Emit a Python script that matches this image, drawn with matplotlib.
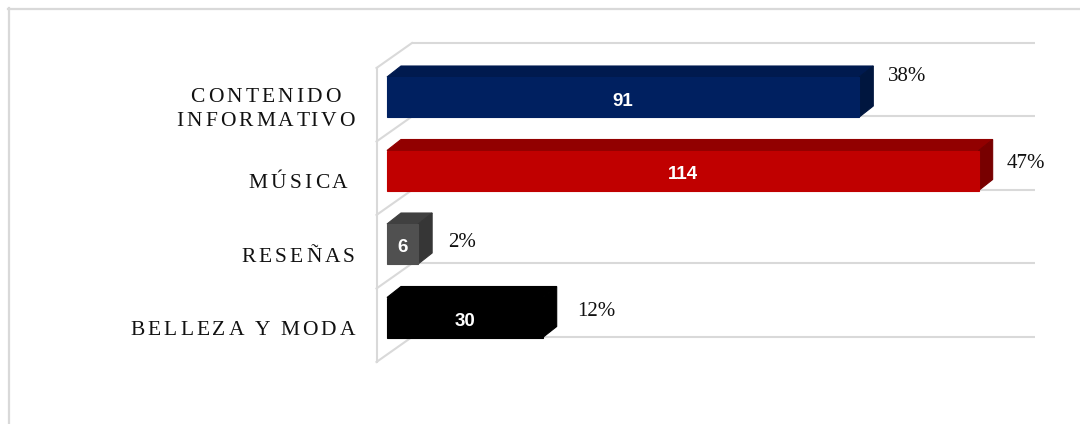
import matplotlib
matplotlib.use("Agg")
import matplotlib.pyplot as plt
from matplotlib.patches import Polygon
from matplotlib.lines import Line2D
from matplotlib.font_manager import FontProperties
import matplotlib.transforms as mtransforms

# ---------------- data ----------------
categories = ["CONTENIDO\nINFORMATIVO", "MÚSICA ", "RESEÑAS", "BELLEZA Y MODA"]
values = [91, 114, 6, 30]
percent_labels = ["38%", "47%", "2%", "12%"]
value_axis_max = 120

# ---------------- style ----------------
front_colors = ["#002060", "#C00000", "#505050", "#000000"]
top_colors = ["#001a4f", "#920000", "#404040", "#000000"]
side_colors = ["#00163f", "#780000", "#363636", "#000000"]
grid_color = "#d9d9d9"

W, H, DPI = 1080, 424, 100
fig = plt.figure(figsize=(W / DPI, H / DPI), dpi=DPI)
ax = fig.add_axes([0, 0, 1, 1])
ax.set_axis_off()

PX = 5.19    # pixels per value unit
PY = 73.5    # pixels per category
X0, Y0 = 387, 97
ax.set_xlim(-X0 / PX, (W - X0) / PX)
ax.set_ylim((H - Y0) / PY, -Y0 / PY)

DX, DY = 14 / PX, -11 / PY          # bar depth
BH = 20 / PY                         # half bar height
WALL_FRONT = -10.5 / PX
WALL_BACK = 25 / PX
WALL_DY = -25 / PY

# outer border
for xs, ys in [([8, 1080], [H - 8.5, H - 8.5]), ([8.5, 8.5], [H - 8, 0])]:
    fig.add_artist(Line2D(xs, ys, transform=mtransforms.IdentityTransform(),
                          color=grid_color, lw=1.6))

# floor / wall lines
n = len(categories)
backs = [-0.5 + k - 0.235 for k in range(n + 1)]
for yb in backs:
    ax.plot([WALL_BACK, value_axis_max + WALL_BACK], [yb, yb], color=grid_color, lw=1.5, zorder=1,
            solid_capstyle="butt")
    ax.plot([WALL_FRONT, WALL_BACK], [yb - WALL_DY, yb], color=grid_color, lw=1.5, zorder=1)
ax.plot([WALL_FRONT, WALL_FRONT], [backs[0] - WALL_DY, backs[-1] - WALL_DY], color=grid_color,
        lw=1.5, zorder=1)

# bars
for i, v in enumerate(values):
    top, bot = i - BH, i + BH
    ax.add_patch(Polygon([(0, top), (v, top), (v + DX, top + DY), (DX, top + DY)],
                         closed=True, facecolor=top_colors[i], edgecolor=top_colors[i],
                         lw=0.8, joinstyle="miter", zorder=3))
    ax.add_patch(Polygon([(v, top), (v + DX, top + DY), (v + DX, bot + DY), (v, bot)],
                         closed=True, facecolor=side_colors[i], edgecolor=side_colors[i],
                         lw=0.8, joinstyle="miter", zorder=3))
    ax.add_patch(Polygon([(0, top), (v, top), (v, bot), (0, bot)],
                         closed=True, facecolor=front_colors[i], edgecolor=front_colors[i],
                         lw=0.8, joinstyle="miter", zorder=4))
    # value label
    ax.text(v / 2, i + 8.5 / PY, str(v), color="white", fontsize=13.5, fontweight="bold",
            family="Liberation Sans", ha="center", va="baseline", zorder=5)

# percent labels
pct_gap = [15, 14, 16, 20]
pct_base = [-16, -2.5, 3, -1.5]
for i, (v, p) in enumerate(zip(values, percent_labels)):
    ax.text(v + DX + pct_gap[i] / PX, i + pct_base[i] / PY, p, fontsize=15,
            family="Liberation Serif", color="#111111", ha="left", va="baseline", zorder=5)

# category labels with letter spacing
fig.canvas.draw()
r = fig.canvas.get_renderer()
prop = FontProperties(family="Liberation Serif", size=15.5)
SP = 3.1
bar_w = r.get_text_width_height_descent("|", prop, ismath=False)[0]


def adv(s):
    if not s:
        return 0.0
    return r.get_text_width_height_descent(s + "|", prop, ismath=False)[0] - bar_w


def line_width(s):
    return adv(s) + (len(s) - 1) * SP


right_val = (355 - X0) / PX
for i, lab in enumerate(categories):
    lines = lab.split("\n")
    xr, yc = ax.transData.transform((right_val, i))
    widths = [line_width(s) for s in lines]
    block_w = max(widths)
    center_x = xr - block_w / 2
    nl = len(lines)
    for j, s in enumerate(lines):
        base = yc - 17.5 + ((nl - 1) / 2 - j) * 24
        if nl > 1:
            x_start = center_x - widths[j] / 2
        else:
            x_start = xr - widths[j]
        for k, ch in enumerate(s):
            if ch == " ":
                continue
            xk = x_start + adv(s[:k]) + k * SP
            fig.text(xk, base, ch, fontproperties=prop, color="#111111", ha="left",
                     va="baseline", transform=mtransforms.IdentityTransform())

fig.savefig("out.png", dpi=DPI)
